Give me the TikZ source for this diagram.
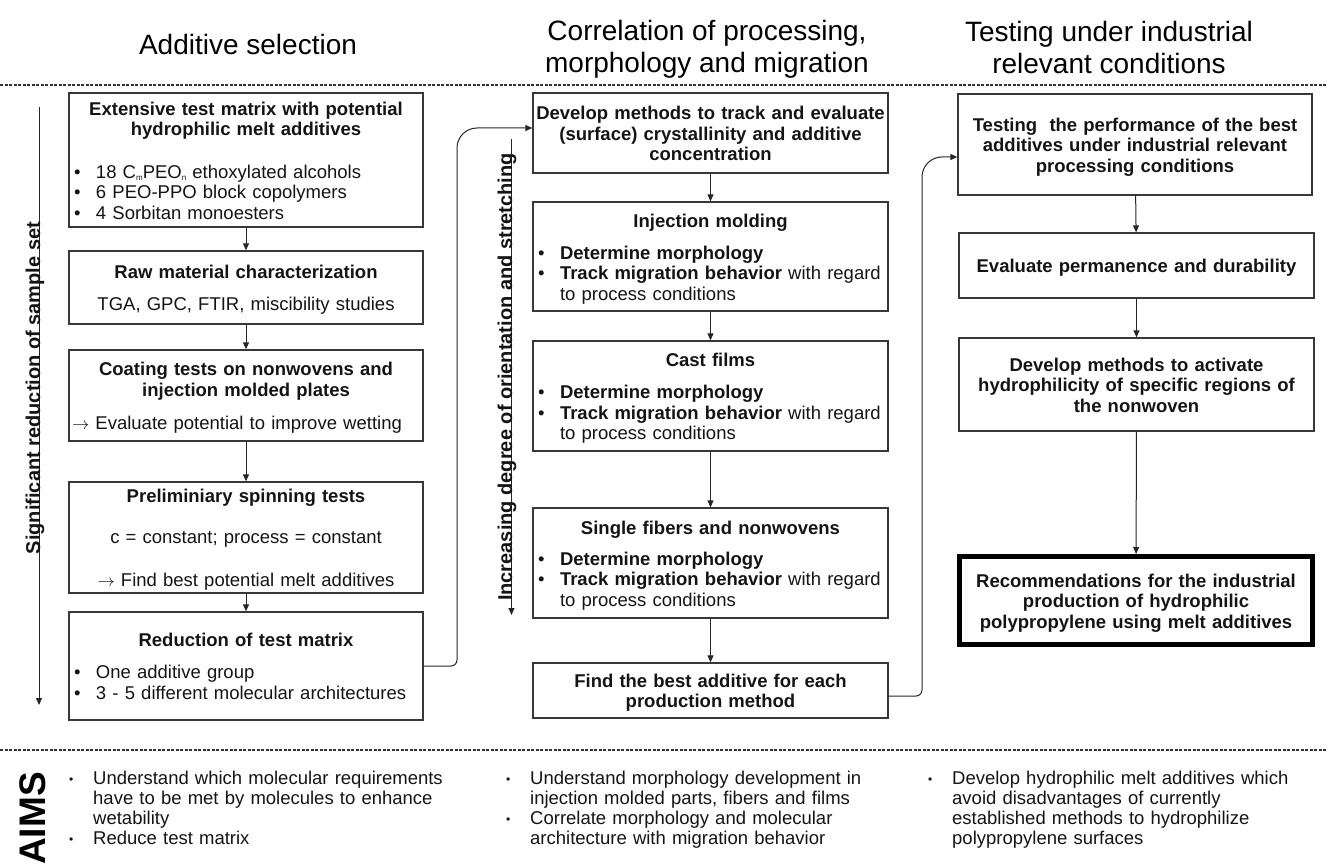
\documentclass[tikz,border=0pt]{standalone}
\usepackage{fontspec}
\setmainfont{Liberation Sans}
\usetikzlibrary{arrows.meta,calc}
\setlength{\parindent}{0pt}
\newcommand{\tl}[1]{\noindent\makebox[\hsize][c]{\bfseries\strut #1}\par}
\newcommand{\pl}[1]{\noindent\makebox[\hsize][c]{\strut #1}\par}
\newcommand{\lpl}[1]{\noindent\hspace*{3pt}\mbox{\strut #1}\par}
\newcommand{\bu}[1]{\noindent\makebox[27pt][l]{\hspace{5pt}\textbullet}\mbox{\strut #1}\par}
\newcommand{\bc}[1]{\noindent\hspace*{27pt}\mbox{\strut #1}\par}
\newcommand{\ab}[1]{\noindent\makebox[27pt][l]{\hspace{3pt}\raisebox{1pt}{\fontsize{12}{12}\selectfont\textbullet}}\mbox{\strut #1}\par}
\newcommand{\ac}[1]{\noindent\hspace*{27pt}\mbox{\strut #1}\par}
\newcommand{\sbs}[1]{\raisebox{-2.5pt}{\fontsize{8}{8}\selectfont #1}}
\newcommand{\topfix}{\leavevmode\rule{0pt}{20.35pt}}
\begin{document}
\begin{tikzpicture}[x=1pt,y=-1pt,
  flowbox/.style={draw=black!78, line width=1.3pt, rectangle, inner sep=0pt,
    minimum width=354pt, text width=354pt, minimum height=#1,
    font=\fontsize{18.5}{20.5}\selectfont, text=black!92},
  thickbox/.style={draw=black, line width=5pt, rectangle, inner sep=0pt,
    minimum width=353pt, text width=353pt, minimum height=#1,
    font=\fontsize{18.5}{20.5}\selectfont, text=black!92},
  heading/.style={font=\fontsize{28}{32}\selectfont, align=center, inner sep=0pt},
  vlabel/.style={font=\bfseries\fontsize{20}{22}\selectfont, rotate=90, anchor=base, inner sep=0pt, text=black!92},
  aimstext/.style={font=\fontsize{18.5}{20}\selectfont, inner sep=0pt, text width=420pt, anchor=north west, text=black!92},
  conn/.style={draw=black!85, line width=1pt, -{Triangle[length=7pt,width=6pt]}},
  dashline/.style={draw=black!80, line width=1.6pt, dash pattern=on 3pt off 1.5pt}
]
\useasboundingbox (0,0) rectangle (1327,866);

% headings
\node[heading] (h1) at (248,44) {Additive selection};
\node[heading] (h2) at (707,49) {Correlation of processing,\\morphology and migration};
\node[heading] (h3) at (1109,47) {Testing under industrial\\relevant conditions};

% dashed separators
\coordinate (d1) at (0,85);
\coordinate (d2) at (1327,85);
\coordinate (d3) at (0,750);
\coordinate (d4) at (1327,750);
\draw[dashline] (d1) -- (d2);
\draw[dashline] (d3) -- (d4);

% left column
\node[flowbox=134pt] (B1) at (246,160) {\topfix\tl{Extensive test matrix with potential}\tl{hydrophilic melt additives}\vspace{22pt}\bu{18 C\sbs{m}PEO\sbs{n} ethoxylated alcohols}\bu{6 PEO-PPO block copolymers}\bu{4 Sorbitan monoesters}};
\node[flowbox=73pt] (B2) at (246,287.5) {\topfix\tl{Raw material characterization}\vspace{11.5pt}\pl{TGA, GPC, FTIR, miscibility studies}};
\node[flowbox=91pt] (B3) at (246,395.5) {\topfix\tl{Coating tests on nonwovens and}\tl{injection molded plates}\vspace{12.5pt}\lpl{$\rightarrow$ Evaluate potential to improve wetting}};
\node[flowbox=111pt] (B4) at (246,537.5) {\topfix\tl{Preliminiary spinning tests}\vspace{20.5pt}\pl{c = constant; process = constant}\vspace{22.5pt}\pl{$\rightarrow$ Find best potential melt additives}};
\node[flowbox=108pt] (B5) at (246,666) {\topfix\tl{Reduction of test matrix}\vspace{11.5pt}\bu{One additive group}\bu{3 - 5 different molecular architectures}};

\draw[conn] (B1) -- (B2);
\draw[conn] (B2) -- (B3);
\draw[conn] (B3) -- (B4);
\draw[conn] (B4) -- (B5);

% middle column
\node[flowbox=80pt, minimum width=355pt, text width=355pt] (M1) at (710.5,133) {\topfix\tl{Develop methods to track and evaluate}\tl{(surface) crystallinity and additive}\tl{concentration}};
\node[flowbox=109pt, minimum width=355pt, text width=355pt] (M2) at (710.5,256.5) {\topfix\tl{Injection molding}\vspace{11.5pt}\bu{\textbf{Determine morphology}}\bu{\textbf{Track migration behavior} with regard}\bc{to process conditions}};
\node[flowbox=110pt, minimum width=355pt, text width=355pt] (M3) at (710.5,396) {\topfix\tl{Cast films}\vspace{11.5pt}\bu{\textbf{Determine morphology}}\bu{\textbf{Track migration behavior} with regard}\bc{to process conditions}};
\node[flowbox=110pt, minimum width=355pt, text width=355pt] (M4) at (710.5,563) {\topfix\tl{Single fibers and nonwovens}\vspace{10.5pt}\bu{\textbf{Determine morphology}}\bu{\textbf{Track migration behavior} with regard}\bc{to process conditions}};
\node[flowbox=55pt, minimum width=355pt, text width=355pt] (M5) at (710.5,690.5) {\topfix\tl{Find the best additive for each}\tl{production method}};

\draw[conn] (M1) -- (M2);
\draw[conn] (M2) -- (M3);
\draw[conn] (M3) -- (M4);
\draw[conn] (M4) -- (M5);

% right column
\node[flowbox=101pt] (R1) at (1135,144.5) {\topfix\tl{Testing~ the performance of the best}\tl{additives under industrial relevant}\tl{processing conditions}};
\node[flowbox=65pt, minimum width=355pt, text width=355pt] (R2) at (1136.5,265.5) {\topfix\tl{Evaluate permanence and durability}};
\node[flowbox=93pt, minimum width=355pt, text width=355pt] (R3) at (1136.5,384.5) {\topfix\tl{Develop methods to activate}\tl{hydrophilicity of specific regions of}\tl{the nonwoven}};
\node[thickbox=88pt] (R4) at (1136,600.5) {\topfix\tl{Recommendations for the industrial}\tl{production of hydrophilic}\tl{polypropylene using melt additives}};

\draw[conn] (R1) -- (R2);
\draw[conn] (R2) -- (R3);
\draw[conn] (R3) -- (R4);

% connectors between columns
\coordinate (k1) at (457,666);
\coordinate (k2) at (457,128);
\draw[conn] (B5.east) [rounded corners=6pt] -- (k1) [rounded corners=20pt] -- (k2) -- ($(M1.west)+(0,-5)$);
\coordinate (k3) at (922,696);
\coordinate (k4) at (922,157);
\draw[conn] ($(M5.east)+(0,5.5)$) [rounded corners=6pt] -- (k3) [rounded corners=20pt] -- (k4) -- ($(R1.west)+(0,12.5)$);

% vertical axis labels
\coordinate (v1) at (39,107);
\coordinate (v2) at (39,705);
\draw[conn] (v1) -- (v2);
\node[vlabel] (L1) at (40,388) {Significant reduction of sample set};
\coordinate (v3) at (511.5,139);
\coordinate (v4) at (511.5,615);
\draw[conn] (v3) -- (v4);
\node[vlabel] (L2) at (512,377) {Increasing degree of orientation and stretching};

% aims
\node[font=\bfseries\fontsize{37}{37}\selectfont, rotate=90, anchor=base, inner sep=0pt] (aims) at (45,818.5) {AIMS};
\node[aimstext] (A1) at (66,770) {\ab{Understand which molecular requirements}\ac{have to be met by molecules to enhance}\ac{wetability}\ab{Reduce test matrix}};
\node[aimstext] (A2) at (503,770) {\ab{Understand morphology development in}\ac{injection molded parts, fibers and films}\ab{Correlate morphology and molecular}\ac{architecture with migration behavior}};
\node[aimstext] (A3) at (925,770) {\ab{Develop hydrophilic melt additives which}\ac{avoid disadvantages of currently}\ac{established methods to hydrophilize}\ac{polypropylene surfaces}};
\end{tikzpicture}
\end{document}
